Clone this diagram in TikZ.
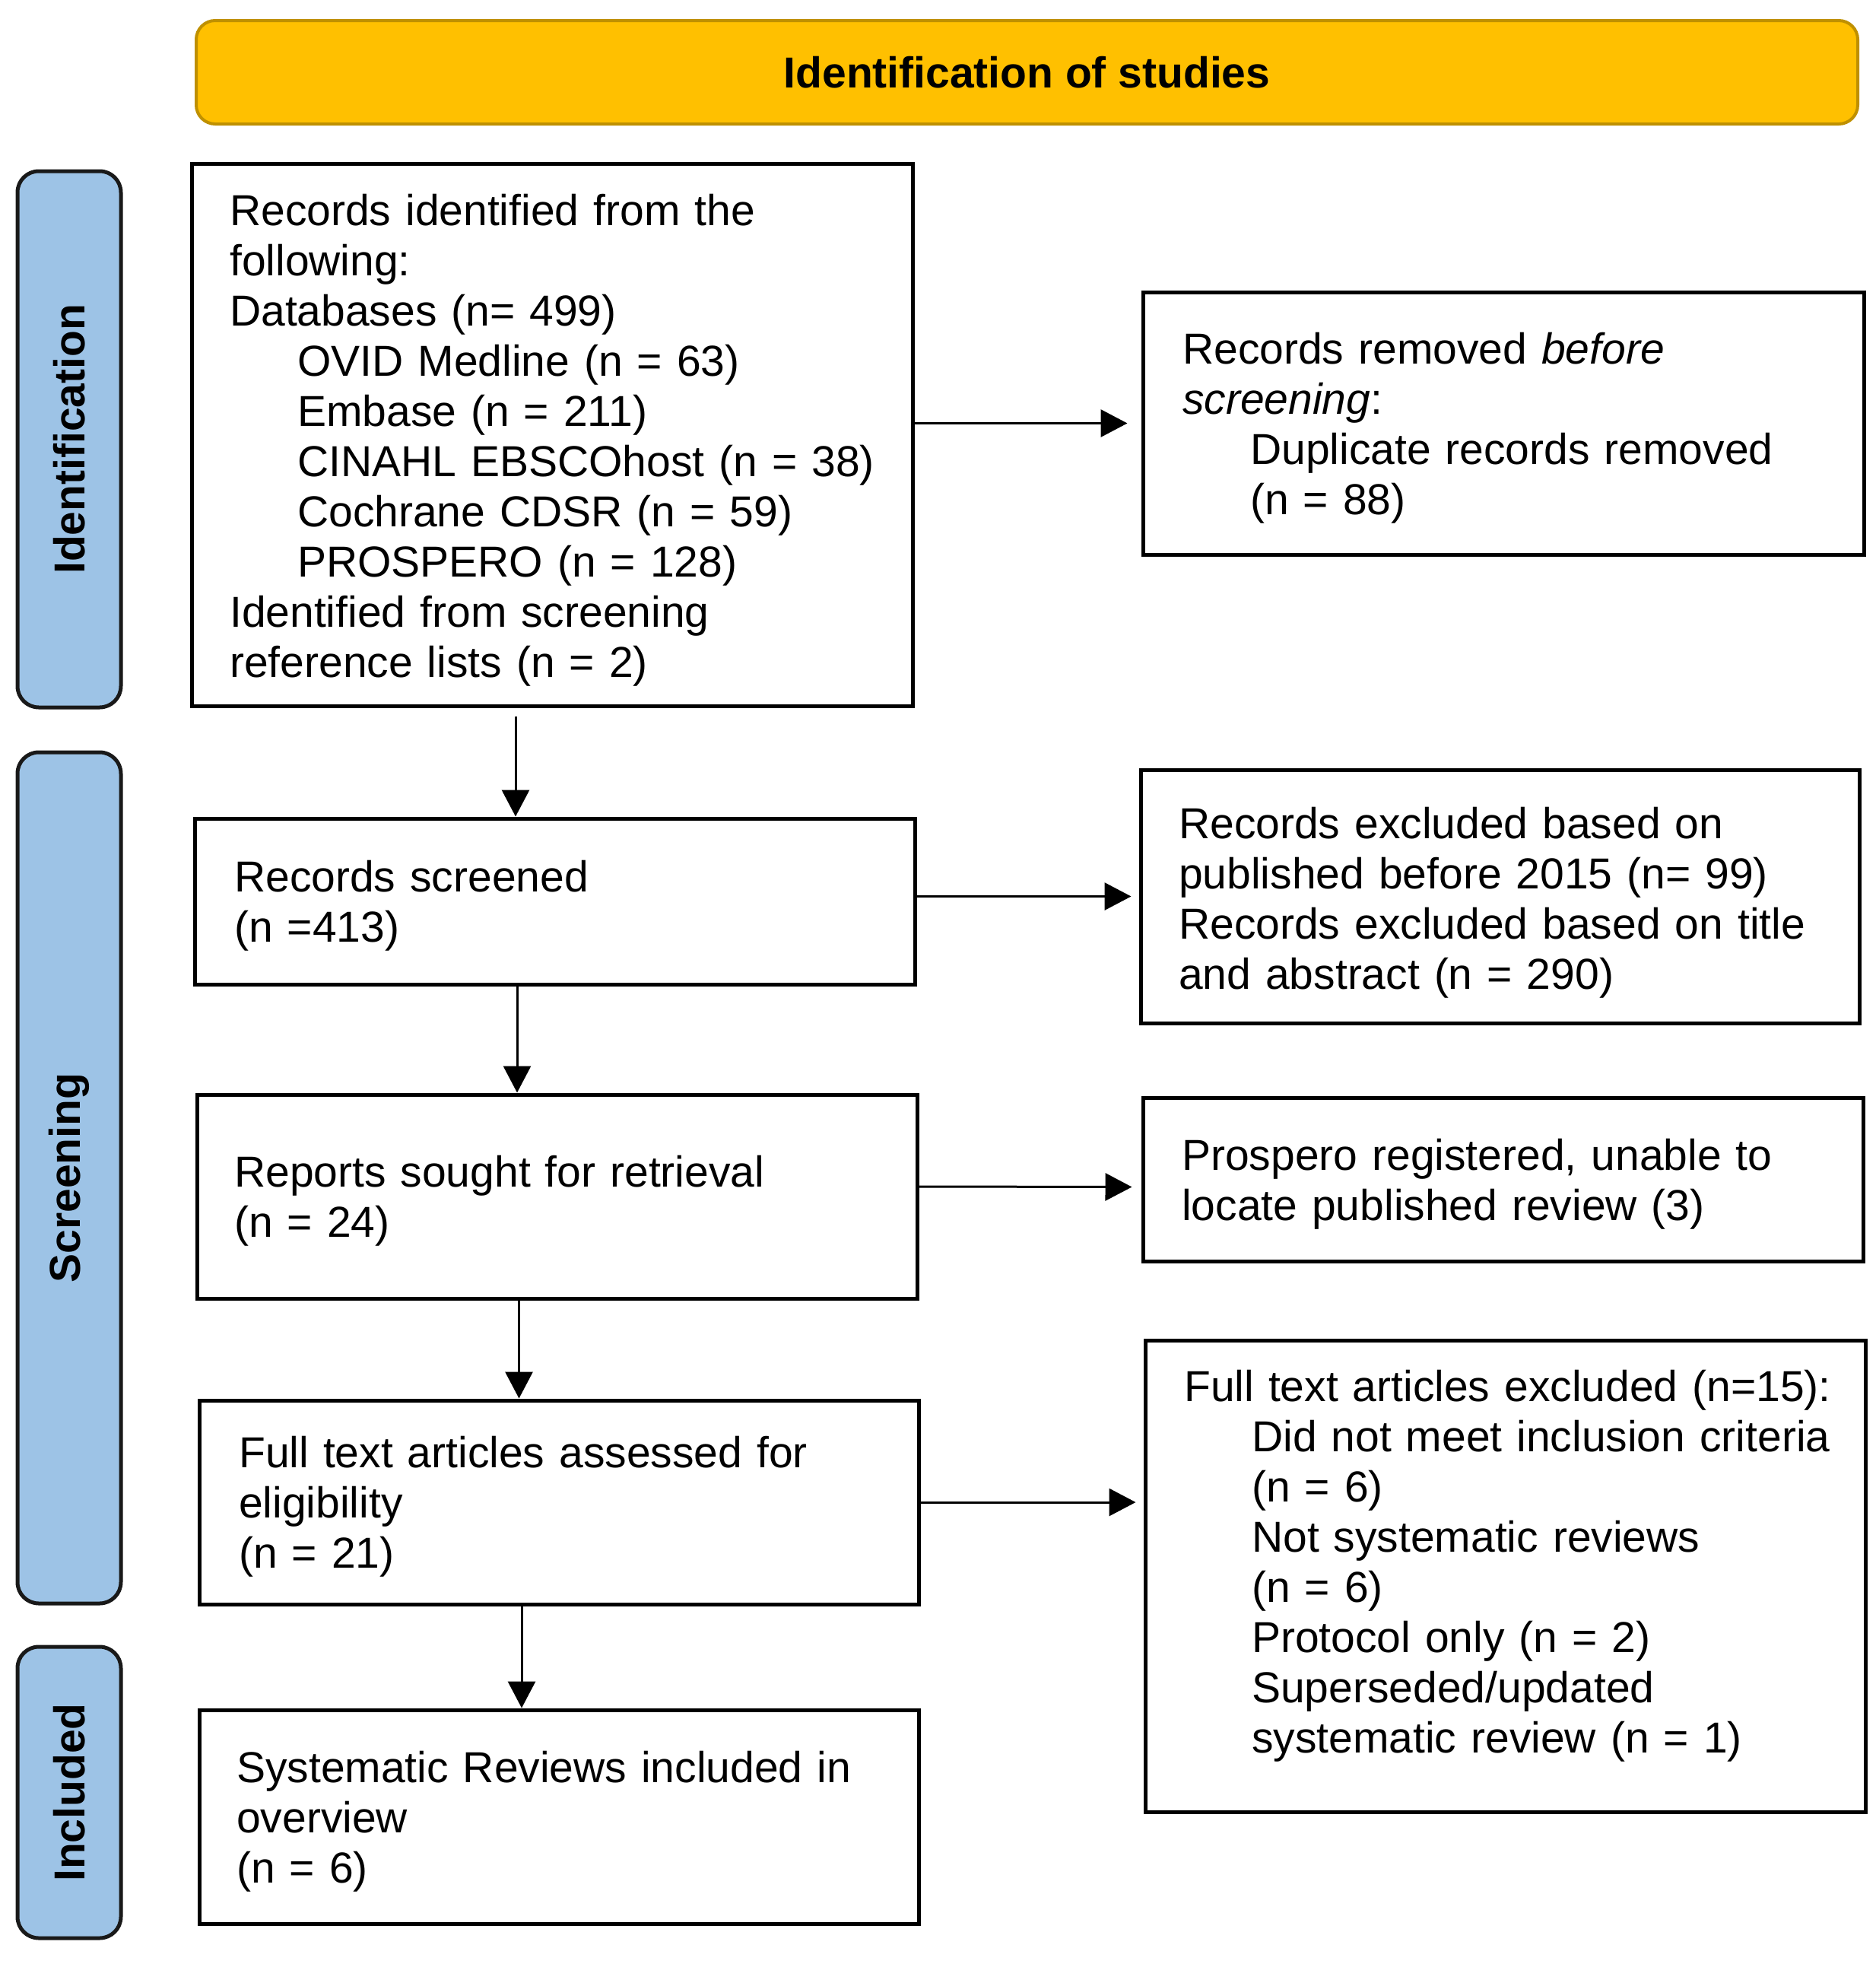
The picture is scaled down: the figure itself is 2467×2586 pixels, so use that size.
\documentclass[tikz,border=0pt]{standalone}
\usepackage{fontspec}
\setmainfont{Liberation Sans}
\usetikzlibrary{arrows.meta,calc}
\definecolor{gold}{HTML}{FFC000}
\definecolor{goldline}{HTML}{BF9000}
\definecolor{sideblue}{HTML}{9DC3E6}
\newcommand{\ind}{\hspace*{89pt}}
\tikzset{
  box/.style={draw=black, line width=5pt, fill=white, inner sep=0pt},
  txt/.style={anchor=west, inner sep=0pt, align=left, text width=880pt,
    font=\fontsize{57}{66}\selectfont},
  side/.style={draw=black!90, line width=5pt, fill=sideblue, rounded corners=28pt,
    rotate=90, inner sep=0pt, font=\bfseries\fontsize{57}{66}\selectfont},
  banner/.style={draw=goldline, line width=4pt, fill=gold, rounded corners=25pt,
    inner sep=0pt, font=\bfseries\fontsize{57}{66}\selectfont},
  arr/.style={line width=3pt, -{Triangle[length=35pt,width=36pt]}},
}
\begin{document}
\begin{tikzpicture}[x=1pt,y=-1pt]
\useasboundingbox (0,0) rectangle (2467,2586);

% banner
\node[banner, minimum width=2185pt, minimum height=136pt] (ban) at (1350.5,95) {Identification of studies};

% side labels
\node[side, minimum width=705pt, minimum height=136pt] (sideI) at (91,577.5) {Identification};
\node[side, minimum width=1119pt, minimum height=136pt] (sideS) at (91,1548.5) {Screening};
\node[side, minimum width=383pt, minimum height=136pt] (sideN) at (91,2356.5) {Included};

% left column boxes
\node[box, minimum width=948pt, minimum height=713pt] (A) at (726,571.5) {};
\node[box, minimum width=947pt, minimum height=218pt] (C) at (729.5,1185) {};
\node[box, minimum width=947pt, minimum height=268pt] (E) at (732.5,1573) {};
\node[box, minimum width=946pt, minimum height=268pt] (G) at (735,1975) {};
\node[box, minimum width=946pt, minimum height=281pt] (I) at (735,2388.5) {};

% right column boxes
\node[box, minimum width=948pt, minimum height=345pt] (B) at (1977,556.5) {};
\node[box, minimum width=945pt, minimum height=333pt] (D) at (1972.5,1178.5) {};
\node[box, minimum width=947pt, minimum height=215pt] (F) at (1976.5,1550.5) {};
\node[box, minimum width=947pt, minimum height=620pt] (H) at (1979.5,2072) {};

% texts
\node[txt] (At) at (302,578.5)
{Records identified from the\\
following:\\
Databases (n= 499)\\
\ind OVID Medline (n = 63)\\
\ind Embase (n = 211)\\
\ind CINAHL EBSCOhost (n = 38)\\
\ind Cochrane CDSR (n = 59)\\
\ind PROSPERO (n = 128)\\
Identified from screening\\
reference lists (n = 2)};

\node[txt] (Ct) at (308,1191)
{Records screened\\
(n =413)};

\node[txt] (Et) at (308,1579)
{Reports sought for retrieval\\
(n = 24)};

\node[txt] (Gt) at (314,1981)
{Full text articles assessed for\\
eligibility\\
(n = 21)};

\node[txt] (It) at (311,2394.5)
{Systematic Reviews included in\\
overview\\
(n = 6)};

\node[txt] (Bt) at (1555,562.5)
{Records removed \textit{before}\\
\textit{screening}:\\
\ind Duplicate records removed\\
\ind (n = 88)};

\node[txt] (Dt) at (1550,1187)
{Records excluded based on\\
published before 2015 (n= 99)\\
Records excluded based on title\\
and abstract (n = 290)};

\node[txt] (Ft) at (1554,1556.5)
{Prospero registered, unable to\\
locate published review (3)};

\node[txt] (Ht) at (1557,2059)
{Full text articles excluded (n=15):\\
\ind Did not meet inclusion criteria\\
\ind (n = 6)\\
\ind Not systematic reviews\\
\ind (n = 6)\\
\ind Protocol only (n = 2)\\
\ind Superseded/updated\\
\ind systematic review (n = 1)};

% vertical arrows
\draw[arr] ([xshift=-48pt,yshift=-11pt]A.south) -- ([xshift=-48pt]A.south |- C.north);
\draw[arr] ([xshift=-49.5pt]C.south) -- ([xshift=-49.5pt]C.south |- E.north);
\draw[arr] ([xshift=-50pt]E.south) -- ([xshift=-50pt]E.south |- G.north);
\draw[arr] ([xshift=-49pt]G.south) -- ([xshift=-49pt]G.south |- I.north);

% horizontal arrows
\draw[arr] (A.east |- B.west) -- ([xshift=-18pt]B.west);
\draw[arr] (C.east |- D.west) -- ([xshift=-10pt]D.west);
\draw[arr] ([yshift=13pt]E.east) -- ([xshift=-12pt,yshift=-10pt]F.west);
\draw[arr] (G.east) -- ([xshift=-10pt]H.west |- G.east);
\end{tikzpicture}
\end{document}
